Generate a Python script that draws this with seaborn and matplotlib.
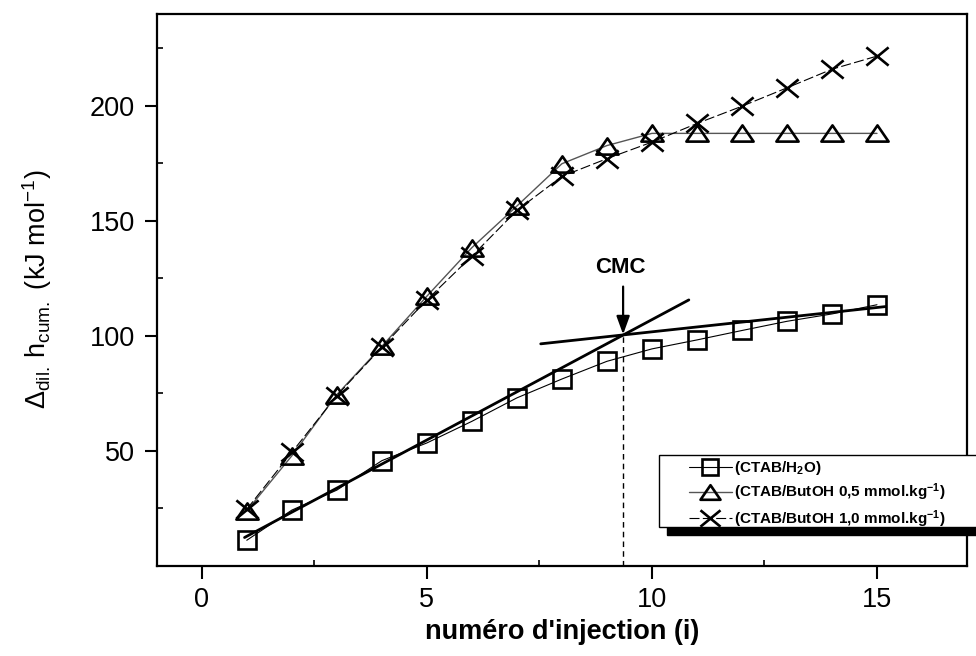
import numpy as np
import pandas as pd
import matplotlib
matplotlib.use("Agg")
import matplotlib.pyplot as plt
from matplotlib.path import Path
from matplotlib.patches import Rectangle
from matplotlib.ticker import MultipleLocator
import seaborn as sns

# ---------------- data ----------------
injection = [1, 2, 3, 4, 5, 6, 7, 8, 9, 10, 11, 12, 13, 14, 15]
ctab_h2o = [11.1, 24.2, 32.9, 45.7, 53.4, 62.8, 73.0, 81.2, 88.9, 94.3, 98.2, 102.3, 106.3, 109.5, 113.5]
ctab_but05 = [23.9, 47.8, 74.4, 95.4, 117.2, 138.3, 156.4, 174.8, 182.7, 188.0, 188.0, 188.0, 188.0, 188.0, 188.0]
ctab_but10 = [24.6, 49.3, 74.0, 95.0, 115.6, 134.6, 154.5, 169.3, 177.0, 184.2, 192.3, 199.8, 207.8, 215.9, 221.6]

series_labels = ["(CTAB/H$_2$O)",
                 "(CTAB/ButOH 0,5 mmol.kg$^{-1}$)",
                 "(CTAB/ButOH 1,0 mmol.kg$^{-1}$)"]

# linear fits (pre-micellar and post-micellar) and CMC
fit1_x = [0.95, 10.82]
fit1_y = [12.3, 115.6]
fit2_x = [7.53, 15.19]
fit2_y = [96.5, 112.7]
cmc_x = 9.36
cmc_y = 100.6
arrow_start_y = 121.4
cmc_label_y = 129.6

x_ticks = [0, 5, 10, 15]
y_ticks = [50, 100, 150, 200]

# ---------------- style ----------------
sns.set_style("white")
plt.rcParams["font.family"] = ["Liberation Sans", "DejaVu Sans"]
plt.rcParams["mathtext.default"] = "regular"
for k in ["text.color", "axes.labelcolor", "xtick.color", "ytick.color", "axes.edgecolor"]:
    plt.rcParams[k] = "black"

fig = plt.figure(figsize=(9.76, 6.56), dpi=100)
ax = fig.add_axes([0.1606, 0.1375, 0.9908 - 0.1606, 0.979 - 0.1375])

tri_marker = Path([(-1, -0.73), (1, -0.73), (0, 0.73), (-1, -0.73)],
                  [Path.MOVETO, Path.LINETO, Path.LINETO, Path.CLOSEPOLY])
x_marker = Path([(-1, -0.82), (1, 0.82), (-1, 0.82), (1, -0.82)],
                [Path.MOVETO, Path.LINETO, Path.MOVETO, Path.LINETO])

df = pd.DataFrame({"i": injection, "h2o": ctab_h2o,
                   "b05": ctab_but05, "b10": ctab_but10})

sns.lineplot(data=df, x="i", y="h2o", ax=ax, color="black", linewidth=0.8,
             marker="s", markersize=12.5, markerfacecolor="none",
             markeredgecolor="black", markeredgewidth=1.9,
             label=series_labels[0], zorder=3)
sns.lineplot(data=df, x="i", y="b05", ax=ax, color="#555555", linewidth=1.0,
             marker=tri_marker, markersize=16, markerfacecolor="none",
             markeredgecolor="black", markeredgewidth=1.9,
             label=series_labels[1], zorder=3)
sns.lineplot(data=df, x="i", y="b10", ax=ax, color="black", linewidth=0.8,
             dashes=False, linestyle=(0, (9, 3)),
             marker=x_marker, markersize=16,
             markeredgecolor="black", markeredgewidth=1.9,
             label=series_labels[2], zorder=3)

# fit lines
sns.lineplot(x=fit1_x, y=fit1_y, ax=ax, color="black", linewidth=2.0, zorder=4)
sns.lineplot(x=fit2_x, y=fit2_y, ax=ax, color="black", linewidth=2.0, zorder=4)
ax.plot([cmc_x, cmc_x], [0, cmc_y], color="black", linewidth=1.0,
        linestyle=(0, (4, 3)), zorder=2)
ax.annotate("", xy=(cmc_x, cmc_y), xytext=(cmc_x, arrow_start_y),
            arrowprops=dict(arrowstyle="-|>,head_length=0.55,head_width=0.2",
                            color="black", lw=1.6, shrinkA=0, shrinkB=0,
                            mutation_scale=20))
ax.text(cmc_x - 0.05, cmc_label_y, "CMC", ha="center", va="center",
        fontsize=16, fontweight="bold")

# axes
ax.set_xlim(-1, 17)
ax.set_ylim(0, 240)
ax.set_xticks(x_ticks)
ax.set_yticks(y_ticks)
ax.xaxis.set_minor_locator(MultipleLocator(2.5))
ax.yaxis.set_minor_locator(MultipleLocator(25))
ax.tick_params(which="major", direction="out", length=9, width=1.5,
               labelsize=19.5, pad=6.5, bottom=True, left=True, top=False, right=False)
ax.tick_params(which="minor", direction="in", length=4, width=1.2,
               bottom=True, left=True, top=False, right=False)
for sp in ax.spines.values():
    sp.set_linewidth(1.6)
    sp.set_color("black")

ax.set_xlabel("numéro d'injection (i)", fontsize=19.5, fontweight="bold", labelpad=4)
ax.set_ylabel(r"$\Delta_{dil.}\,h_{cum.}$ (kJ mol$^{-1}$)", fontsize=19.5, labelpad=26)

# legend with shadowed box
handles, labels = ax.get_legend_handles_labels()
leg = ax.legend(handles[:3], labels[:3], loc="center left",
                bbox_to_anchor=(0.706, 0.2462), bbox_transform=fig.transFigure,
                frameon=False, borderpad=0, borderaxespad=0,
                handlelength=2.8, handletextpad=0.15, labelspacing=0.3,
                prop={"weight": "bold", "size": 11}, markerscale=0.9)
leg.set_zorder(6)
shadow = Rectangle((667 / 976, 1 - 535 / 656), 0.4, 72 / 656,
                   transform=fig.transFigure, facecolor="black", edgecolor="black",
                   clip_on=False, zorder=4.0)
box = Rectangle((658.5 / 976, 1 - 527 / 656), 0.4, 72 / 656,
                transform=fig.transFigure, facecolor="white", edgecolor="black",
                linewidth=1.0, clip_on=False, zorder=4.1)
ax.add_artist(shadow)
ax.add_artist(box)

fig.savefig("out.png", dpi=100)
